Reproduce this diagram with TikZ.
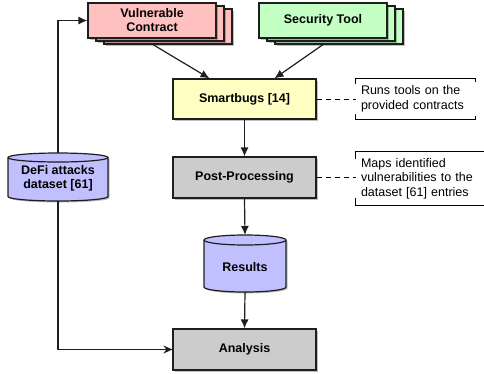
\documentclass[tikz,border=0pt]{standalone}
\usepackage{fontspec}
\setmainfont{Liberation Sans}
\usetikzlibrary{arrows.meta,shadows,calc}
\definecolor{pinkf}{RGB}{255,192,192}
\definecolor{greenf}{RGB}{196,255,196}
\definecolor{yellowf}{RGB}{255,255,196}
\definecolor{grayf}{RGB}{204,204,204}
\definecolor{purplef}{RGB}{192,192,255}
\definecolor{linec}{RGB}{30,30,30}
\begin{document}
\begin{tikzpicture}[x=1pt,y=-1pt,
  shd/.style={drop shadow={shadow xshift=1.5pt,shadow yshift=-1.5pt,fill=black,opacity=0.25}},
  stackbox/.style={draw=linec,line width=1.2pt,minimum width=128pt,minimum height=35pt,inner sep=2pt,
    font=\fontsize{12.5}{14}\selectfont\bfseries,align=center,shd},
  mainbox/.style={draw=linec,line width=1.2pt,minimum width=143pt,minimum height=40pt,inner sep=2pt,
    font=\fontsize{12.5}{14}\selectfont\bfseries,align=center,shd},
  cyltext/.style={font=\fontsize{12.5}{14}\selectfont\bfseries,align=center,inner sep=1pt},
  cyl/.style={draw=linec,line width=1.2pt,fill=purplef},
  notebox/.style={inner xsep=5pt,inner ysep=2pt,align=left,font=\fontsize{12.5}{14.5}\selectfont},
  notel/.style={draw=black,line width=0.9pt},
  arr/.style={draw=linec,line width=1.2pt,-{Latex[length=9pt,width=8pt]}},
  arrs/.style={draw=linec,line width=1.2pt,-{Stealth[length=9pt,width=8pt,inset=3pt]}},
  dline/.style={draw=black,line width=0.9pt,dash pattern=on 5pt off 4pt}]
\useasboundingbox (0,0) rectangle (484,373);

% stacked boxes
\node[stackbox,fill=pinkf] (vc3) at (168,26.5) {};
\node[stackbox,fill=pinkf] (vc2) at (160,23.5) {};
\node[stackbox,fill=pinkf] (vc) at (152,20.5) {Vulnerable\\Contract};
\node[stackbox,fill=greenf] (st3) at (339,26.5) {};
\node[stackbox,fill=greenf] (st2) at (331,23.5) {};
\node[stackbox,fill=greenf] (st) at (323,20.5) {Security Tool};

% main boxes
\node[mainbox,fill=yellowf] (sb) at (244.5,99) {Smartbugs [14]};
\node[mainbox,fill=grayf,minimum height=41pt] (pp) at (244.5,177.5) {Post-Processing};
\node[mainbox,fill=grayf,minimum height=41pt] (an) at (244.5,349.5) {Analysis};

% cylinders
\path[cyl,shd] (8,157.5) -- (8,196.5) arc (180:360:50pt and 4.5pt) -- (108,157.5) arc (0:180:50pt and 4.5pt) -- cycle;
\draw[linec,line width=1.2pt] (8,157.5) arc (180:360:50pt and 4.5pt);
\node[cyltext] (defi) at (58,178) {DeFi attacks\\dataset [61]};
\coordinate (defitop) at (58,153);
\coordinate (defibot) at (58,201);

\path[cyl,shd] (204,240) -- (204,287) arc (180:360:41pt and 5pt) -- (286,240) arc (0:180:41pt and 5pt) -- cycle;
\draw[linec,line width=1.2pt] (204,240) arc (180:360:41pt and 5pt);
\node[cyltext] (res) at (245,267) {Results};
\coordinate (restop) at (245,235);
\coordinate (resbot) at (245,292);

% notes
\node[notebox,text width=109pt,minimum height=40pt] (n1) at (415.5,99) {Runs tools on the\\provided contracts};
\draw[notel] ($(n1.north west)+(0,5)$) -- (n1.north west) -- (n1.north east) -- ++(0,3);
\draw[notel] ($(n1.south west)+(0,-5)$) -- (n1.south west) -- (n1.south east) -- ++(0,-3);
\node[notebox,text width=129pt,minimum height=54pt] (n2) at (425.5,178.5) {Maps identified\\vulnerabilities to the\\dataset [61] entries};
\draw[notel] ($(n2.north west)+(0,8)$) -- (n2.north west) -- (n2.north east);
\draw[notel] ($(n2.south west)+(0,-8)$) -- (n2.south west) -- (n2.south east);

% connectors
\draw[arr] ($(vc.south)+(1,6)$) -- ($(sb.north)+(-35,0)$);
\draw[arr] ($(st.south)+(0,6)$) -- ($(sb.north)+(30,0)$);
\draw[arr] (sb.south) -- (pp.north);
\draw[arr] (pp.south) -- (restop);
\draw[arr] (resbot) -- (an.north);
\draw[arr] (defitop) |- (vc.west);
\draw[arrs] (defibot) |- (an.west);
\draw[dline] (sb.east) -- (n1.west);
\draw[dline] (pp.east) -- (pp.east -| n2.west);
\end{tikzpicture}
\end{document}
